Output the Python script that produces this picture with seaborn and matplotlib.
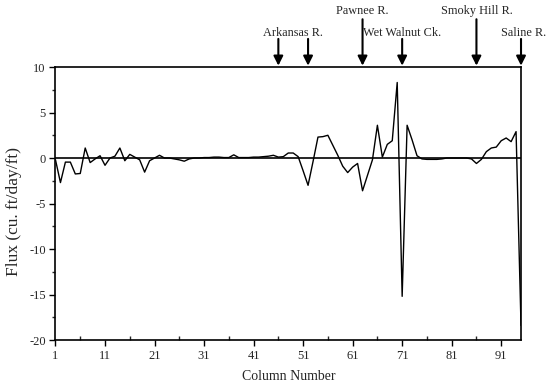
import numpy as np
import pandas as pd
import matplotlib
matplotlib.use("Agg")
import matplotlib.pyplot as plt
import seaborn as sns

# ---- data ----
columns = list(range(1, 96))
flux = [
    -0.2, -2.7, -0.45, -0.45, -1.75, -1.7, 1.1, -0.5, -0.1, 0.25,
    -0.8, 0.0, 0.2, 1.1, -0.3, 0.4, 0.1, -0.2, -1.55, -0.3,
    0.0, 0.3, 0.0, 0.0, -0.1, -0.2, -0.35, -0.1, 0.0, 0.0,
    0.05, 0.05, 0.1, 0.1, 0.05, 0.05, 0.35, 0.05, 0.05, 0.05,
    0.1, 0.1, 0.15, 0.2, 0.3, 0.1, 0.15, 0.55, 0.55, 0.15,
    -1.4, -3.0, -0.4, 2.3, 2.35, 2.5, 1.4, 0.3, -0.9, -1.6,
    -1.0, -0.6, -3.6, -1.9, -0.2, 3.6, 0.1, 1.5, 1.9, 8.3,
    -15.2, 3.6, 2.0, 0.25, -0.1, -0.15, -0.15, -0.15, -0.1, 0.0,
    0.0, 0.0, 0.0, 0.0, -0.1, -0.6, -0.15, 0.7, 1.1, 1.2,
    1.9, 2.2, 1.8, 2.9, -18.4,
]
x_ticks = [1, 11, 21, 31, 41, 51, 61, 71, 81, 91]
y_ticks = [-20, -15, -10, -5, 0, 5, 10]

# river locations (column numbers) and labels
arrow_cols = [46, 52, 63, 71, 86, 95]
arrow_high = [False, False, True, False, True, False]
river_labels = ["Arkansas R.", "Pawnee R.", "Wet Walnut Ck.", "Smoky Hill R.", "Saline R."]
label_cols = [49, 63, 71, 86, 95.5]
label_high = [False, True, False, True, False]

df = pd.DataFrame({"Column": columns, "Flux": flux})

sns.set_style("ticks")
plt.rcParams["font.family"] = ["Liberation Serif", "DejaVu Serif"]

fig = plt.figure(figsize=(5.5, 3.91), dpi=100)
ax = fig.add_axes([0.1009, 0.1304, 0.8464, 0.6982])

ax.axhline(0, color="black", lw=1.2, zorder=1)
sns.lineplot(data=df, x="Column", y="Flux", color="black", lw=1.0, ax=ax, zorder=2)

ax.set_xlim(1, 95)
ax.set_ylim(-20, 10)
ax.set_xticks(x_ticks)
ax.set_xticklabels([str(t) for t in x_ticks])
ax.set_xticks([t + 5 for t in x_ticks if t + 5 <= 95], minor=True)
ax.set_yticks(y_ticks)
ax.set_yticklabels([str(t) for t in y_ticks])
ax.set_yticks([t + 2.5 for t in y_ticks[:-1]], minor=True)

for s in ax.spines.values():
    s.set_visible(True)
    s.set_linewidth(1.2)
    s.set_color("black")

ax.tick_params(axis="both", which="major", labelsize=9, length=4, width=1, color="black", direction="out", pad=3)
ax.tick_params(axis="x", which="minor", length=3, width=1, direction="in")
ax.tick_params(axis="y", which="minor", length=2.5, width=1, direction="out")

ax.set_xlabel("Column Number", fontsize=10, labelpad=6)
ax.set_ylabel("Flux (cu. ft/day/ft)", fontsize=12.5)
ax.yaxis.set_label_coords(-0.073, 0.47)

trans = ax.get_xaxis_transform()
for c, hi in zip(arrow_cols, arrow_high):
    ystart = 1.175 if hi else 1.103
    ax.annotate("", xy=(c, 1.005), xycoords=trans, xytext=(c, ystart), textcoords=trans,
                arrowprops=dict(arrowstyle="-|>", color="black", lw=1.5, mutation_scale=14,
                                shrinkA=0, shrinkB=0), annotation_clip=False)

for lab, c, hi in zip(river_labels, label_cols, label_high):
    ypos = 1.205 if hi else 1.125
    ax.text(c, ypos, lab, transform=trans, ha="center", va="center", fontsize=8.8, clip_on=False)

fig.savefig("out.png", dpi=100)
